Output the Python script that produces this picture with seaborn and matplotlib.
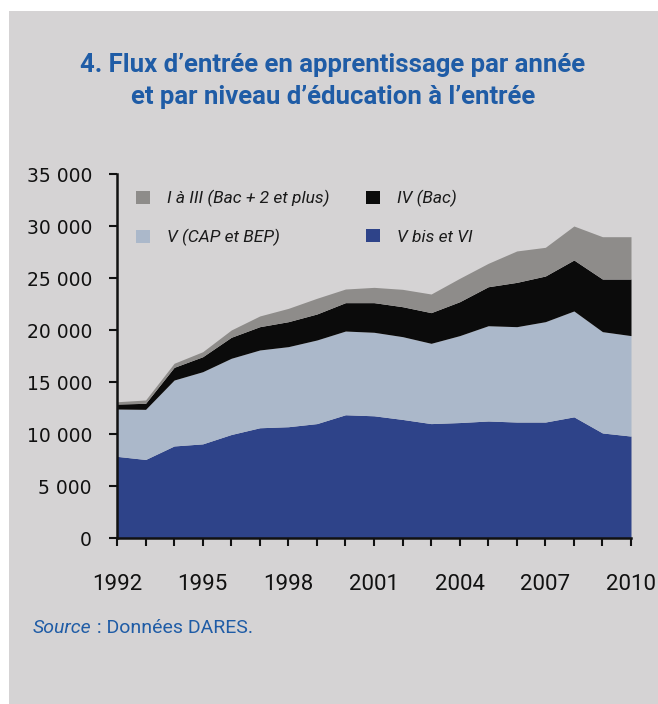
import matplotlib
matplotlib.use("Agg")
import matplotlib.pyplot as plt
from matplotlib.patches import Patch, Rectangle
from matplotlib.ticker import FuncFormatter
import seaborn as sns
import pandas as pd

# data (apprentices entering per year, by level)
years = list(range(1992, 2011))
v_bis_vi = [7850, 7550, 8850, 9050, 9950, 10600, 10700, 11000, 11850, 11750,
            11400, 11000, 11100, 11250, 11150, 11150, 11650, 10100, 9800]
v_cap_bep = [4550, 4820, 6340, 6940, 7330, 7480, 7700, 8040, 8050, 8030,
             7960, 7720, 8360, 9160, 9170, 9650, 10180, 9740, 9660]
iv_bac = [480, 580, 1220, 1440, 2020, 2240, 2400, 2500, 2730, 2850,
          2880, 2950, 3260, 3750, 4260, 4390, 4900, 5060, 5440]
i_iii = [220, 320, 390, 480, 700, 1030, 1280, 1510, 1310, 1470,
         1670, 1790, 2250, 2250, 3020, 2760, 3270, 4070, 4070]

labels = ["V bis et VI", "V (CAP et BEP)", "IV (Bac)", "I à III (Bac + 2 et plus)"]
colors = ["#2e4389", "#abb8ca", "#0b0b0b", "#8e8c8a"]
x_ticklabels = ["1992", "1995", "1998", "2001", "2004", "2007", "2010"]

title = "4. Flux d\u2019entrée en apprentissage par année\net par niveau d\u2019éducation à l\u2019entrée"
bg = "#d5d3d4"
blue_txt = "#1f5ca6"
narrow = ["Roboto", "DejaVu Sans"]

df = pd.DataFrame({"annee": years, labels[0]: v_bis_vi, labels[1]: v_cap_bep,
                   labels[2]: iv_bac, labels[3]: i_iii})


def main():
    sns.set_theme(style="ticks")
    plt.rcParams["font.family"] = ["DejaVu Sans"]

    W, H = 658, 704
    fig = plt.figure(figsize=(W / 100, H / 100), dpi=100, facecolor="white")
    fig.patches.append(Rectangle((9 / W, 0), 1, 1 - 11 / H, transform=fig.transFigure,
                                 facecolor=bg, edgecolor="none", zorder=-10))

    ax = fig.add_axes([117 / W, 1 - 538 / H, (631 - 117) / W, (538 - 174) / H])
    ax.set_facecolor("none")
    ax.set_zorder(2)

    ax.stackplot(df["annee"], [df[l] for l in labels], colors=colors, linewidth=0)

    ax.set_xlim(1992, 2010)
    ax.set_ylim(0, 35000)
    ax.set_xticks(years)
    ax.set_xticklabels([str(y) if str(y) in x_ticklabels else "" for y in years],
                       family=narrow, fontsize=16)
    ax.set_yticks(range(0, 35001, 5000))
    ax.yaxis.set_major_formatter(FuncFormatter(lambda v, p: f"{int(v):,}".replace(",", " ")))
    ax.tick_params(axis="y", labelsize=13.5, length=6, width=1.5, direction="out",
                   pad=12, colors="#111111")
    ax.tick_params(axis="x", length=6, width=1.5, direction="out", pad=20, colors="#111111")
    sns.despine(ax=ax)
    for s in ["left", "bottom"]:
        ax.spines[s].set_linewidth(1.8)
        ax.spines[s].set_color("#111111")
    ax.set_xlabel("")
    ax.set_ylabel("")

    # legend: row 1 gray / black, row 2 light / blue
    order = [3, 1, 2, 0]
    handles = [Patch(facecolor=colors[i], edgecolor="none") for i in order]
    leg = ax.legend(handles, [labels[i] for i in order], ncol=2, frameon=False,
                    loc="upper left", bbox_to_anchor=(136 / W, 1 - 190 / H),
                    bbox_transform=fig.transFigure,
                    borderaxespad=0, borderpad=0, handlelength=0.8, handleheight=0.8,
                    handletextpad=1.0, columnspacing=2.1, labelspacing=1.25,
                    prop={"family": narrow, "style": "italic", "size": 12.5})
    for t in leg.get_texts():
        t.set_color("#1a1a1a")

    fig.text(333 / W, 1 - 81 / H, title, ha="center", va="center", color=blue_txt,
             fontsize=18.5, fontweight="bold", linespacing=1.4, family=narrow)

    src = fig.text(33 / W, 1 - 628 / H, "Source", style="italic", color=blue_txt,
                   fontsize=14, va="center", family=narrow)
    fig.canvas.draw()
    bb = src.get_window_extent()
    fig.text(bb.x1 / W, 1 - 628 / H, " : Données DARES.", color=blue_txt,
             fontsize=14, va="center", family=narrow)

    fig.savefig("out.png", dpi=100, facecolor="white")


if __name__ == "__main__":
    main()
